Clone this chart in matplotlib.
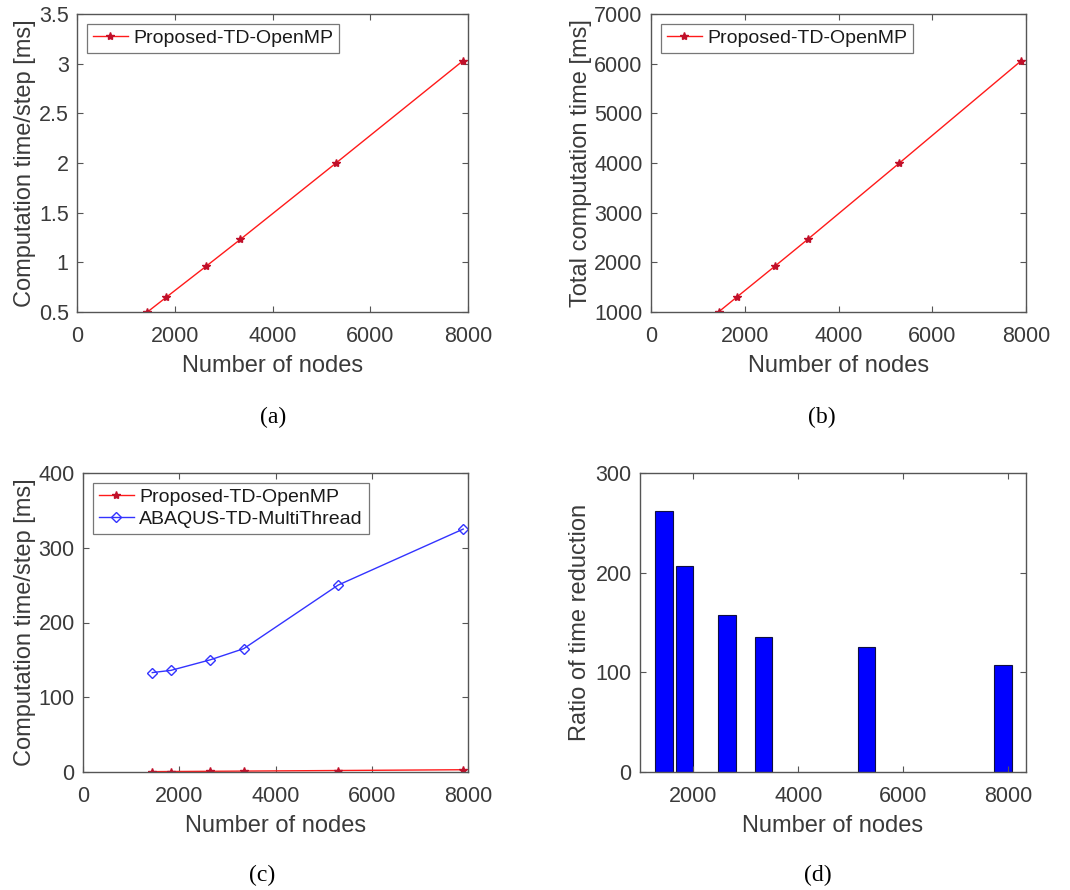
import matplotlib
matplotlib.use('Agg')
import matplotlib.pyplot as plt

# node counts of the meshes
nodes = [1440, 1830, 2640, 3340, 5300, 7900]
# proposed solver, time per step [ms]
step_time = [0.5, 0.65, 0.96, 1.23, 2.0, 3.03]
# proposed solver, total time [ms]
total_time = [1000, 1300, 1920, 2460, 4000, 6060]
# ABAQUS multithread, time per step [ms]
abaqus_time = [133, 136, 150, 165, 250, 325]
# speed-up ratio ABAQUS / proposed
reduction = [262, 207, 158, 135, 125, 107]

xticks = [0, 2000, 4000, 6000, 8000]

plt.rcParams['font.family'] = ['Liberation Sans', 'DejaVu Sans']
W, H = 1070, 890
fig = plt.figure(figsize=(W / 100, H / 100), dpi=100)

txt = '#3a3a3a'
edge = '#555555'


def px_axes(l, t, r, b):
    return fig.add_axes([l / W, 1 - b / H, (r - l) / W, (b - t) / H])


def style(ax):
    for s in ax.spines.values():
        s.set_color(edge)
        s.set_linewidth(1.0)
    ax.tick_params(direction='in', length=4, width=0.8, top=True, right=True,
                   colors=edge, labelcolor=txt, labelsize=15.5)
    ax.tick_params(axis='x', pad=10)
    ax.tick_params(axis='y', pad=6)


def labels(ax, ylab, ypad=2):
    ax.set_xlabel('Number of nodes', fontsize=17, color=txt, labelpad=6)
    ax.set_ylabel(ylab, fontsize=17, color=txt, labelpad=ypad)


def legend(ax):
    lg = ax.legend(loc='upper left', fontsize=14, frameon=True, fancybox=False,
                   borderpad=0.3, handlelength=1.8, handletextpad=0.3,
                   labelspacing=0.2, borderaxespad=0.5)
    lg.get_frame().set_edgecolor(edge)
    lg.get_frame().set_linewidth(0.9)
    for t in lg.get_texts():
        t.set_color('#1a1a1a')


red_kw = dict(color='#ff1a1a', lw=1.0, marker='*', ms=6, mfc='#c0102a', mec='#c0102a')

# (a) time per step
ax = px_axes(77, 14, 468, 312)
ax.plot(nodes, step_time, label='Proposed-TD-OpenMP', **red_kw)
ax.set_xlim(0, 8000)
ax.set_ylim(0.5, 3.5)
ax.set_xticks(xticks)
ax.set_yticks([0.5, 1, 1.5, 2, 2.5, 3, 3.5])
ax.set_yticklabels(['0.5', '1', '1.5', '2', '2.5', '3', '3.5'])
labels(ax, 'Computation time/step [ms]')
style(ax)
legend(ax)

# (b) total time
ax = px_axes(651, 14, 1026, 312)
ax.plot(nodes, total_time, label='Proposed-TD-OpenMP', **red_kw)
ax.set_xlim(0, 8000)
ax.set_ylim(1000, 7000)
ax.set_xticks(xticks)
ax.set_yticks(range(1000, 7001, 1000))
labels(ax, 'Total computation time [ms]')
style(ax)
legend(ax)

# (c) comparison with ABAQUS
ax = px_axes(83, 473, 468, 772)
ax.plot(nodes, step_time, label='Proposed-TD-OpenMP', **red_kw)
ax.plot(nodes, abaqus_time, label='ABAQUS-TD-MultiThread', color='#3333ff', lw=1.0,
        marker='D', ms=5.5, mfc='none', mec='#3333ff')
ax.set_xlim(0, 8000)
ax.set_ylim(0, 400)
ax.set_xticks(xticks)
ax.set_yticks([0, 100, 200, 300, 400])
labels(ax, 'Computation time/step [ms]')
style(ax)
legend(ax)

# (d) ratio of time reduction
ax = px_axes(640, 473, 1026, 772)
ax.bar(nodes, reduction, width=330, color='#0000ff', edgecolor='#101040', linewidth=0.8)
ax.set_xlim(980, 8340)
ax.set_ylim(0, 300)
ax.set_xticks([2000, 4000, 6000, 8000])
ax.set_yticks([0, 100, 200, 300])
labels(ax, 'Ratio of time reduction', ypad=3)
style(ax)

# panel captions
for x, y, s in [(273, 417, '(a)'), (822, 417, '(b)'), (262, 875, '(c)'), (818, 875, '(d)')]:
    fig.text(x / W, 1 - y / H, s, ha='center', va='center', fontsize=17,
             family='Liberation Serif', color='black')

fig.savefig('out.png', dpi=100)
